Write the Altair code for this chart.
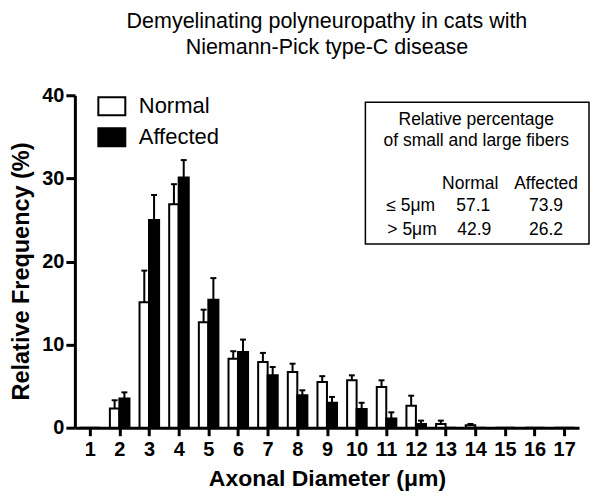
import altair as alt
import pandas as pd

# ---- data ----
sizes = list(range(1, 18))
normal = [0, 2.3, 15.1, 26.9, 12.7, 8.3, 7.9, 6.7, 5.5, 5.7, 4.9, 2.65, 0.45, 0.3, 0, 0, 0]
normal_top = [0, 3.3, 18.9, 29.3, 14.2, 9.2, 9.0, 7.7, 6.2, 6.3, 5.7, 3.85, 0.85, 0.45, 0, 0, 0]
affected = [0, 3.5, 25.0, 30.1, 15.4, 9.1, 6.3, 3.9, 3.0, 2.25, 1.1, 0.45, 0, 0, 0, 0, 0]
affected_top = [0, 4.25, 28.0, 32.2, 18.0, 10.6, 7.3, 4.5, 3.7, 3.0, 1.85, 0.85, 0, 0, 0, 0, 0]
groups = ["Normal", "Affected"]
y_ticks = [0, 10, 20, 30, 40]

table_title = ["Relative percentage", "of small and large fibers"]
table_cols = ["Normal", "Affected"]
table_rows = ["\u2264 5\u03bcm", "> 5\u03bcm"]
table_normal = [57.1, 42.9]
table_affected = [73.9, 26.2]

FONT = "Liberation Sans"

rows = []
for i, s in enumerate(sizes):
    rows.append({"size": s, "group": "Normal", "side": -1, "value": normal[i], "top": normal_top[i]})
    rows.append({"size": s, "group": "Affected", "side": 1, "value": affected[i], "top": affected_top[i]})
df = pd.DataFrame(rows)

xscale = alt.Scale(domain=[0.5, 17.5], nice=False, zero=False)
yscale = alt.Scale(domain=[0, 40], nice=False)
xaxis = alt.Axis(values=sizes, format="d", title="Axonal Diameter (\u03bcm)")
yaxis = alt.Axis(values=y_ticks, format="d", title="Relative Frequency (%)",
                 tickSize=9, labelPadding=2, titleX=-41, titleY=176, titleFontSize=23.5)


def X(field):
    return alt.X(field, scale=xscale, axis=xaxis)


def Y(field):
    return alt.Y(field, scale=yscale, axis=yaxis)


base = alt.Chart(df).transform_calculate(
    x0="datum.size + (datum.side < 0 ? -0.32 : 0)",
    x1="datum.size + (datum.side < 0 ? 0 : 0.34)",
).transform_calculate(
    xc="(datum.x0 + datum.x1) / 2",
).transform_calculate(
    c0="datum.xc - 0.1",
    c1="datum.xc + 0.1",
)

bars = base.mark_bar(stroke="black", strokeWidth=2).encode(
    x=X("x0:Q"),
    x2="x1:Q",
    y=Y("value:Q"),
    y2=alt.datum(0),
    fill=alt.Fill("group:N", scale=alt.Scale(domain=groups, range=["white", "black"]),
                  legend=alt.Legend(title=None, orient="none", legendX=26, legendY=0,
                                    symbolType="M-1.5,-1H1.5V1H-1.5Z", symbolSize=324,
                                    symbolStrokeColor="black", symbolStrokeWidth=2,
                                    labelFont=FONT, labelFontSize=22, labelColor="black",
                                    labelOffset=16, rowPadding=5, padding=0)),
)

err = base.transform_filter("datum.top > datum.value")
err_line = err.mark_rule(color="black", strokeWidth=2).encode(
    x=X("xc:Q"), y=Y("top:Q"), y2="value:Q")
err_cap = err.mark_rule(color="black", strokeWidth=2).encode(
    x=X("c0:Q"), x2="c1:Q", y=Y("top:Q"))

# ---- inset table ----
box = alt.Chart(pd.DataFrame({"k": [0]})).mark_rect(
    fill="white", stroke="black", strokeWidth=1.5
).encode(x=alt.value(291), x2=alt.value(515), y=alt.value(7), y2=alt.value(149))


def txt(text, x, y, align="center"):
    return alt.Chart(pd.DataFrame({"t": [text]})).mark_text(
        font=FONT, fontSize=17.5, color="black", align=align, baseline="alphabetic"
    ).encode(x=alt.value(x), y=alt.value(y), text="t:N")


texts = [
    txt(table_title[0], 402, 30),
    txt(table_title[1], 402, 51),
    txt(table_cols[0], 396, 94),
    txt(table_cols[1], 472, 94),
    txt(table_rows[0], 312, 116, "left"),
    txt(table_rows[1], 313, 140, "left"),
    txt(f"{table_normal[0]:.1f}", 399, 116),
    txt(f"{table_affected[0]:.1f}", 472, 116),
    txt(f"{table_normal[1]:.1f}", 400, 140),
    txt(f"{table_affected[1]:.1f}", 472, 140),
]

chart = alt.layer(bars, err_line, err_cap, box, *texts).properties(
    width=505,
    height=333,
    autosize="none",
    padding={"left": 67, "top": 87, "right": 13, "bottom": 64},
    title=alt.TitleParams(
        text=["Demyelinating polyneuropathy in cats with", "Niemann-Pick type-C disease"],
        font=FONT, fontSize=21.5, fontWeight="normal", color="black",
        anchor="middle", lineHeight=26, offset=27,
    ),
).configure_view(stroke=None).configure_axis(
    domainColor="black", domainWidth=3, tickColor="black", tickWidth=3, tickSize=8,
    labelFont=FONT, labelFontSize=20, labelFontWeight="bold", labelColor="black",
    labelPadding=4, titleFont=FONT, titleFontSize=23, titleFontWeight="bold",
    titleColor="black", titlePadding=8, grid=False,
)

chart.save("out.html", embed_options={"renderer": "svg", "actions": False})
